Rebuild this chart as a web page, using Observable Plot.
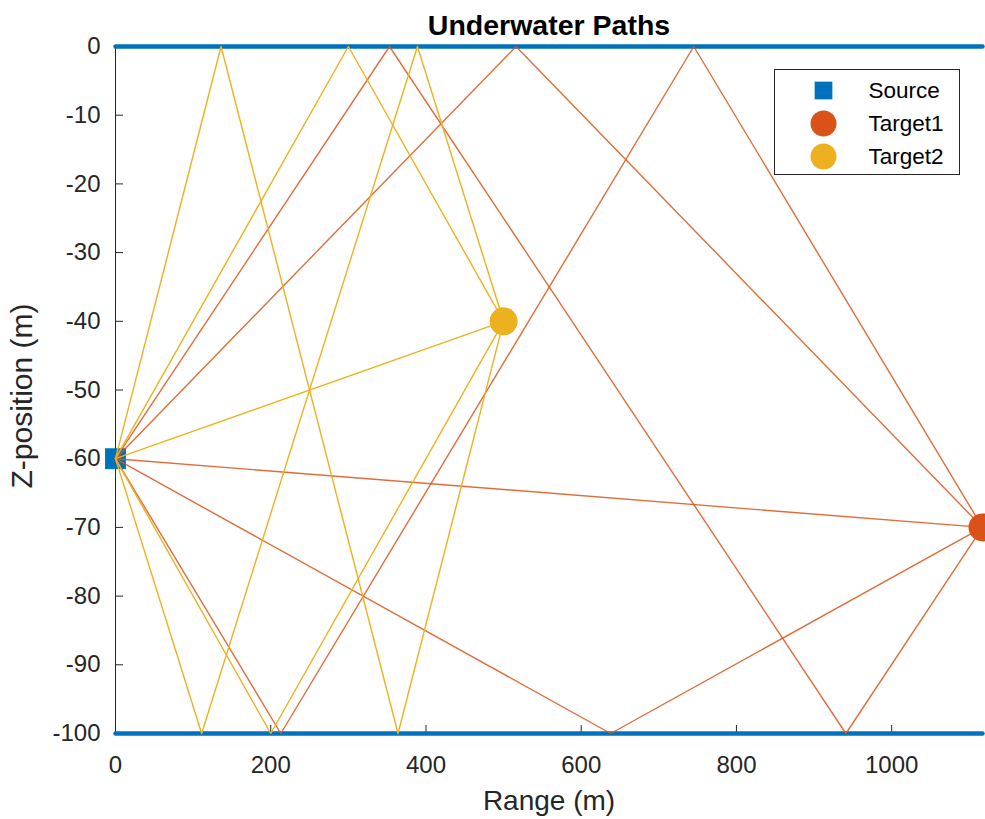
<!DOCTYPE html>
<html>
<head>
<meta charset="utf-8">
<script src="https://cdn.jsdelivr.net/npm/d3@7"></script>
<script src="https://cdn.jsdelivr.net/npm/@observablehq/plot@0.6"></script>
<style>
  html, body { margin: 0; padding: 0; background: white; overflow: hidden; }
</style>
</head>
<body>
<div id="chart"></div>
<script>
// ---- data ----
const chartTitle = "Underwater Paths";
const xLabel = "Range (m)";
const yLabel = "Z-position (m)";
const xTicks = [0, 200, 400, 600, 800, 1000];
const yTicks = [0, -10, -20, -30, -40, -50, -60, -70, -80, -90, -100];
const rangeMax = 1117;
const surfaceZ = 0;
const bottomZ = -100;

const sourceName = "Source";
const sourceRange = [0];
const sourceZ = [-60];

const targetNames = ["Target1", "Target2"];
const targetRange = [1117, 500];
const targetZ = [-70, -40];

// path vertices (range, z) for each path to Target1
const t1PathRanges = [
  [0, 1117],
  [0, 516, 1117],
  [0, 638, 1117],
  [0, 353, 941, 1117],
  [0, 213, 745, 1117]
];
const t1PathZ = [
  [-60, -70],
  [-60, 0, -70],
  [-60, -100, -70],
  [-60, 0, -100, -70],
  [-60, -100, 0, -70]
];
// path vertices (range, z) for each path to Target2
const t2PathRanges = [
  [0, 500],
  [0, 300, 500],
  [0, 200, 500],
  [0, 136, 364, 500],
  [0, 111, 389, 500]
];
const t2PathZ = [
  [-60, -40],
  [-60, 0, -40],
  [-60, -100, -40],
  [-60, 0, -100, -40],
  [-60, -100, 0, -40]
];

const colBlue = "#0072BD";
const colOrange = "#D95319";
const colYellow = "#EDB120";
const axisColor = "#262626";

// ---- build tables ----
function buildPaths(ranges, zs) {
  const rows = [];
  ranges.forEach((r, i) => r.forEach((x, j) => rows.push({path: i, x, z: zs[i][j]})));
  return rows;
}
const t1Rows = buildPaths(t1PathRanges, t1PathZ);
const t2Rows = buildPaths(t2PathRanges, t2PathZ);
const sourceRows = sourceRange.map((x, i) => ({x, z: sourceZ[i]}));
const targetRows = targetNames.map((n, i) => ({name: n, x: targetRange[i], z: targetZ[i]}));
const surfaceRows = [{x: 0, z: surfaceZ}, {x: rangeMax, z: surfaceZ}];
const bottomRows = [{x: 0, z: bottomZ}, {x: rangeMax, z: bottomZ}];

const legendItems = [
  {name: sourceName, symbol: "square", r: 10, color: colBlue},
  {name: targetNames[0], symbol: "circle", r: 13, color: colOrange},
  {name: targetNames[1], symbol: "circle", r: 13, color: colYellow}
];

const W = 985, H = 819;
const mL = 115, mR = 3, mT = 46, mB = 86;
const frameW = W - mL - mR, frameH = H - mT - mB;
const font = "'Liberation Sans', Arial, Helvetica, sans-serif";

const legendMarks = [];
legendItems.forEach((d, i) => {
  legendMarks.push(Plot.dot([d], {
    frameAnchor: "top-right", dx: -159, dy: 44 + i * 33,
    symbol: d.symbol, r: d.r, fill: d.color
  }));
  legendMarks.push(Plot.text([d], {
    frameAnchor: "top-right", dx: -114, dy: 44 + i * 33,
    text: "name", textAnchor: "start", lineAnchor: "middle", fontSize: 22.5, fill: "#000"
  }));
});

const chart = Plot.plot({
  width: W,
  height: H,
  marginLeft: mL,
  marginRight: mR,
  marginTop: mT,
  marginBottom: mB,
  style: {fontFamily: font, fontSize: "24px", color: axisColor, background: "white"},
  x: {domain: [0, rangeMax]},
  y: {domain: [bottomZ, surfaceZ]},
  marks: [
    Plot.axisX({ticks: xTicks, tickSize: 0, tickPadding: 22, tickFormat: d => String(d), label: null, fontSize: 24}),
    Plot.axisY({ticks: yTicks, tickSize: 0, tickPadding: 15, tickFormat: d => String(d), label: null, fontSize: 24}),
    Plot.ruleX([0], {stroke: axisColor, strokeWidth: 1}),
    Plot.tickY(yTicks, {y: d => d, insetRight: frameW - 8, stroke: axisColor}),
    Plot.tickX(xTicks, {x: d => d, insetTop: frameH - 8, stroke: axisColor}),
    Plot.line(surfaceRows, {x: "x", y: "z", stroke: colBlue, strokeWidth: 4.5}),
    Plot.line(bottomRows, {x: "x", y: "z", stroke: colBlue, strokeWidth: 4.5}),
    Plot.dot(sourceRows, {x: "x", y: "z", symbol: "square", r: 11.8, fill: colBlue}),
    Plot.line(t1Rows, {x: "x", y: "z", z: "path", stroke: colOrange, strokeWidth: 1.4, strokeOpacity: 0.85}),
    Plot.line(t2Rows, {x: "x", y: "z", z: "path", stroke: colYellow, strokeWidth: 1.4}),
    Plot.dot(targetRows, {x: "x", y: "z", r: 14, fill: (d, i) => [colOrange, colYellow][i]}),
    Plot.frame({insetLeft: 659, insetRight: 23, insetTop: 23, insetBottom: 559, stroke: axisColor, fill: "white", strokeWidth: 1}),
    ...legendMarks,
    Plot.text([chartTitle], {frameAnchor: "top", dy: -21, lineAnchor: "middle", fontSize: 28.5, fontWeight: "bold", fill: "#000"}),
    Plot.text([xLabel], {frameAnchor: "bottom", dy: 68, lineAnchor: "middle", fontSize: 28, fill: axisColor}),
    Plot.text([yLabel], {frameAnchor: "left", dx: -93, dy: 6, rotate: -90, textAnchor: "middle", lineAnchor: "middle", fontSize: 30, fill: axisColor})
  ]
});
document.getElementById("chart").appendChild(chart);
</script>
</body>
</html>
